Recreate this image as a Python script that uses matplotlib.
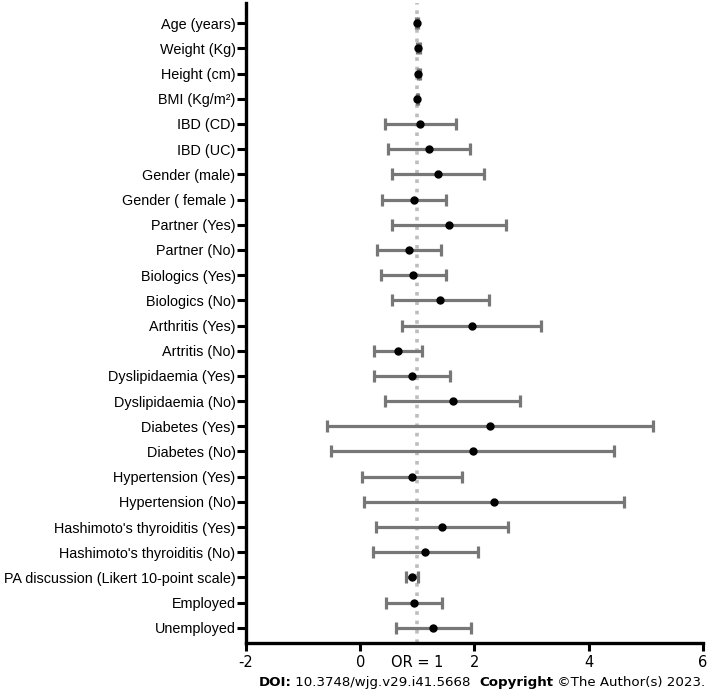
import numpy as np
import matplotlib
matplotlib.use("Agg")
import matplotlib.pyplot as plt

# odds ratios with 95% CI
labels = ["Age (years)", "Weight (Kg)", "Height (cm)", "BMI (Kg/m\u00b2)",
          "IBD (CD)", "IBD (UC)", "Gender (male)", "Gender ( female )",
          "Partner (Yes)", "Partner (No)", "Biologics (Yes)", "Biologics (No)",
          "Arthritis (Yes)", "Artritis (No)", "Dyslipidaemia (Yes)",
          "Dyslipidaemia (No)", "Diabetes (Yes)", "Diabetes (No)",
          "Hypertension (Yes)", "Hypertension (No)",
          "Hashimoto's thyroiditis (Yes)", "Hashimoto's thyroiditis (No)",
          "PA discussion (Likert 10-point scale)", "Employed", "Unemployed"]
odds = [1.00, 1.02, 1.02, 1.00, 1.05, 1.21, 1.36, 0.94, 1.56, 0.86, 0.93, 1.39,
        1.96, 0.67, 0.90, 1.62, 2.27, 1.97, 0.90, 2.34, 1.43, 1.14, 0.91, 0.94, 1.28]
ci_low = [0.98, 1.00, 1.01, 0.99, 0.43, 0.49, 0.55, 0.38, 0.55, 0.30, 0.36, 0.55,
          0.74, 0.25, 0.25, 0.44, -0.58, -0.51, 0.03, 0.07, 0.27, 0.22, 0.81, 0.45, 0.62]
ci_high = [1.02, 1.04, 1.04, 1.01, 1.67, 1.93, 2.16, 1.51, 2.56, 1.42, 1.50, 2.25,
           3.17, 1.09, 1.57, 2.80, 5.12, 4.44, 1.79, 4.62, 2.59, 2.07, 1.02, 1.43, 1.94]

odds = np.array(odds)
err = np.array([odds - np.array(ci_low), np.array(ci_high) - odds])
ypos = np.arange(len(labels))

fig = plt.figure(figsize=(7.14, 6.94), dpi=100)
ax = fig.add_axes([0.3445, 0.0735, 0.6400, 0.9222])

ax.axvline(1, color="#bdbdbd", linestyle=(0, (1, 1.6)), linewidth=2.6, zorder=1)
ax.errorbar(odds, ypos, xerr=err, fmt="o", color="black", markersize=5,
            ecolor="#777777", elinewidth=2.3, capsize=4, capthick=2.3, zorder=3)

ax.set_xlim(-2, 6)
ax.set_ylim(len(labels) - 1 + 0.6, -0.8)
ax.set_yticks(ypos)
ax.set_yticklabels(labels, fontfamily="Liberation Sans", fontsize=10.4)
ax.set_xticks([-2, 0, 2, 4, 6])
ax.set_xticklabels(["-2", "0", "2", "4", "6"], fontfamily="DejaVu Sans", fontsize=10.5)
ax.set_xticks([1], minor=True)
ax.set_xticklabels(["OR = 1"], minor=True, fontfamily="DejaVu Sans", fontsize=10.5)
ax.tick_params(axis="x", which="minor", length=0, pad=8.5)
ax.tick_params(axis="x", which="major", length=6, width=2.2, pad=3)
ax.tick_params(axis="y", length=6.5, width=2.2, pad=1)

for s in ["top", "right"]:
    ax.spines[s].set_visible(False)
for s in ["left", "bottom"]:
    ax.spines[s].set_linewidth(2.4)

# footer: DOI + copyright, with bold keywords, right aligned
parts = [("DOI:", "bold"), (" 10.3748/wjg.v29.i41.5668  ", "normal"),
         ("Copyright", "bold"), (" \u00a9The Author(s) 2023.", "normal")]
fig.canvas.draw()
r = fig.canvas.get_renderer()
texts = []
for txt, w in parts:
    texts.append(fig.text(0, 0.011, txt, fontsize=9.6, fontweight=w,
                          family="DejaVu Sans", ha="left", va="baseline"))
widths = [t.get_window_extent(renderer=r).width / fig.bbox.width for t in texts]
x = 0.988 - sum(widths)
for t, w in zip(texts, widths):
    t.set_x(x)
    x += w

fig.savefig("out.png", dpi=100)
